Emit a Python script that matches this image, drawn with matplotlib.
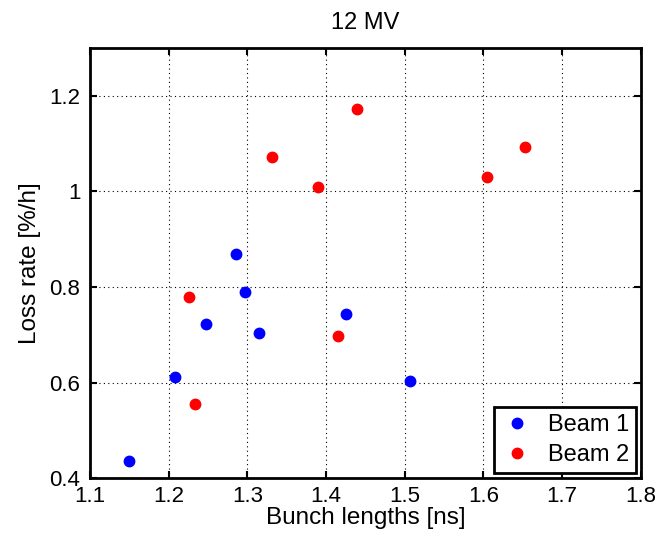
import numpy as np
import matplotlib
matplotlib.use('Agg')
import matplotlib.pyplot as plt

plt.rcParams['font.family'] = ['Liberation Sans', 'DejaVu Sans']

# Beam 1
b1_len = [1.150, 1.208, 1.247, 1.286, 1.297, 1.315, 1.425, 1.507]
b1_loss = [0.435, 0.612, 0.722, 0.868, 0.790, 0.703, 0.743, 0.604]
# Beam 2
b2_len = [1.226, 1.234, 1.331, 1.390, 1.439, 1.415, 1.604, 1.653]
b2_loss = [0.779, 0.556, 1.072, 1.010, 1.172, 0.698, 1.030, 1.092]

fig = plt.figure(figsize=(6.69, 5.36), dpi=100)
ax = fig.add_axes([0.1345, 0.108, 0.8235, 0.8024])

ax.plot(b1_len, b1_loss, 'o', color='#0000ff', markersize=7.5, label='Beam 1')
ax.plot(b2_len, b2_loss, 'o', color='#ff0000', markersize=7.5, label='Beam 2')

ax.set_xlim(1.1, 1.8)
ax.set_ylim(0.4, 1.3)
ax.set_xticks(np.arange(1.1, 1.81, 0.1))
ax.set_xticklabels(['1.1', '1.2', '1.3', '1.4', '1.5', '1.6', '1.7', '1.8'])
ax.set_yticks([0.4, 0.6, 0.8, 1.0, 1.2])
ax.set_yticklabels(['0.4', '0.6', '0.8', '1', '1.2'])

ax.grid(True, color='black', linestyle=(0, (1, 3)), linewidth=0.8)
ax.tick_params(direction='in', top=True, right=True, length=5, width=1.5, labelsize=16)
ax.tick_params(axis='x', pad=6)
ax.tick_params(axis='y', pad=7)
for s in ax.spines.values():
    s.set_linewidth(2)

ax.set_xlabel('Bunch lengths [ns]', fontsize=17.5, labelpad=0)
ax.set_ylabel('Loss rate [%/h]', fontsize=17.5, labelpad=6)
ax.set_title('12 MV', fontsize=17, pad=14)

leg = ax.legend(loc='lower right', fontsize=17, fancybox=False, framealpha=1,
                edgecolor='black', borderaxespad=0.2, handletextpad=0.6,
                borderpad=0.3, labelspacing=0.35, handlelength=1.4)
leg.get_frame().set_linewidth(2)

fig.savefig('out.png', dpi=100)
